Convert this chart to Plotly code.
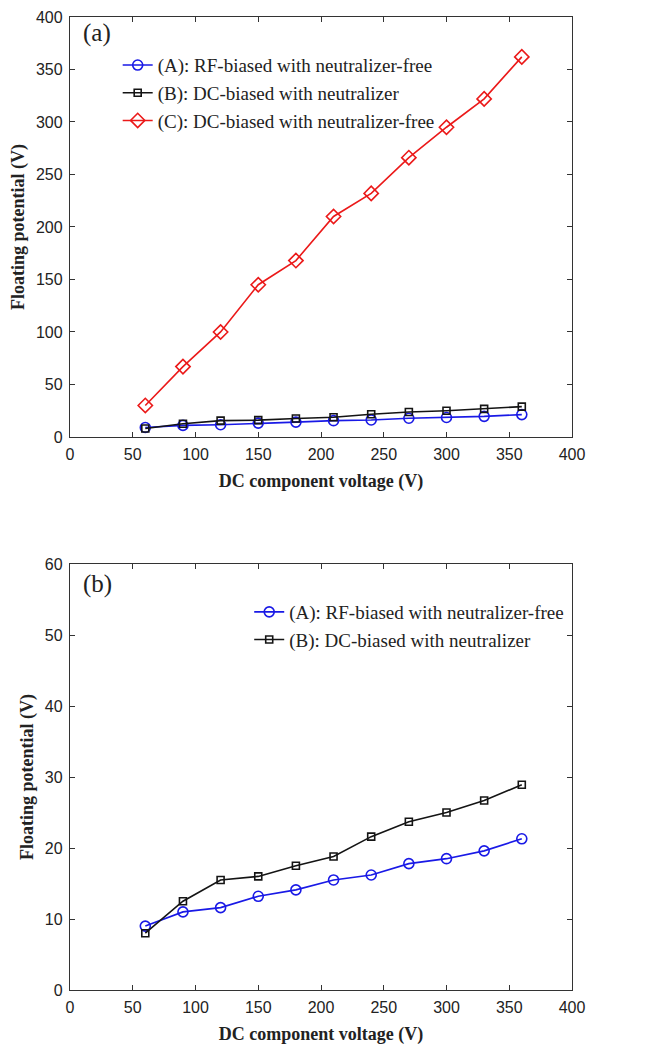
import plotly.graph_objects as go

voltage = [60, 90, 120, 150, 180, 210, 240, 270, 300, 330, 360]
rf_neutralizer_free = [9.0, 11.0, 11.6, 13.2, 14.1, 15.5, 16.2, 17.8, 18.5, 19.6, 21.3]
dc_neutralizer = [8.0, 12.5, 15.5, 16.0, 17.5, 18.8, 21.6, 23.7, 25.0, 26.7, 28.9]
dc_neutralizer_free = [30, 67, 100, 145, 168, 210, 232, 266, 295, 322, 362]

name_a = "(A): RF-biased with neutralizer-free"
name_b = "(B): DC-biased with neutralizer"
name_c = "(C): DC-biased with neutralizer-free"

BLUE = "rgb(25,25,230)"
BLACK = "rgb(20,20,20)"
RED = "rgb(235,25,25)"

fig = go.Figure()

def add(x, y, name, color, symbol, size, xa, ya, legend, show=True):
    fig.add_trace(go.Scatter(
        x=x, y=y, name=name, mode="lines+markers",
        line=dict(color=color, width=1.6),
        marker=dict(symbol=symbol, size=size, color=color,
                    line=dict(color=color, width=1.6)),
        xaxis=xa, yaxis=ya, legend=legend, showlegend=show))

# panel (a)
add(voltage, rf_neutralizer_free, name_a, BLUE, "circle-open", 10, "x", "y", "legend")
add(voltage, dc_neutralizer, name_b, BLACK, "square-open", 7, "x", "y", "legend")
add(voltage, dc_neutralizer_free, name_c, RED, "diamond-open", 11, "x", "y", "legend")
# panel (b)
add(voltage, rf_neutralizer_free, name_a, BLUE, "circle-open", 10, "x2", "y2", "legend2")
add(voltage, dc_neutralizer, name_b, BLACK, "square-open", 7, "x2", "y2", "legend2")

axis_common = dict(
    showline=True, linecolor="#333", linewidth=1.3, mirror="ticks",
    ticks="inside", ticklen=5, tickwidth=1.2, tickcolor="#333",
    showgrid=False, zeroline=False, automargin=False,
    ticklabelstandoff=3,
    tickfont=dict(family="Liberation Sans, Arial", size=16, color="#222"),
)
title_font = dict(family="Liberation Serif, Times New Roman", size=18, color="#222")
legend_font = dict(family="Liberation Serif, Times New Roman", size=19, color="#222")

ya_dom = [0.5684, 1.0]
yb_dom = [0.0, 0.4378]

fig.update_layout(
    width=639, height=1045,
    margin=dict(l=62, r=75, t=9, b=63),
    plot_bgcolor="white", paper_bgcolor="white",
    xaxis=dict(domain=[0, 1], anchor="y", range=[0, 400], dtick=50,
               title=dict(text="<b>DC component voltage (V)</b>", font=title_font, standoff=12),
               **axis_common),
    yaxis=dict(domain=ya_dom, anchor="x", range=[0, 400], dtick=50,
               title=dict(text="<b>Floating potential (V)</b>", font=title_font, standoff=6),
               **axis_common),
    xaxis2=dict(domain=[0, 1], anchor="y2", range=[0, 400], dtick=50,
                title=dict(text="<b>DC component voltage (V)</b>", font=title_font, standoff=12),
                **axis_common),
    yaxis2=dict(domain=yb_dom, anchor="x2", range=[0, 60], dtick=10,
                title=dict(text="<b>Floating potential (V)</b>", font=title_font, standoff=6),
                **axis_common),
    legend=dict(x=0.095, y=0.970, xanchor="left", yanchor="top",
                bgcolor="rgba(0,0,0,0)", borderwidth=0, itemwidth=30,
                font=legend_font),
    legend2=dict(x=0.357, y=0.408, xanchor="left", yanchor="top",
                 bgcolor="rgba(0,0,0,0)", borderwidth=0, itemwidth=30,
                 font=legend_font),
    annotations=[
        dict(text="(a)", x=0.022, y=1.0, xref="x domain", yref="y domain",
             xanchor="left", yanchor="top", showarrow=False,
             font=dict(family="Liberation Serif, Times New Roman", size=25, color="#222")),
        dict(text="(b)", x=0.022, y=0.99, xref="x2 domain", yref="y2 domain",
             xanchor="left", yanchor="top", showarrow=False,
             font=dict(family="Liberation Serif, Times New Roman", size=25, color="#222")),
    ],
)

fig.write_html("out.html")
